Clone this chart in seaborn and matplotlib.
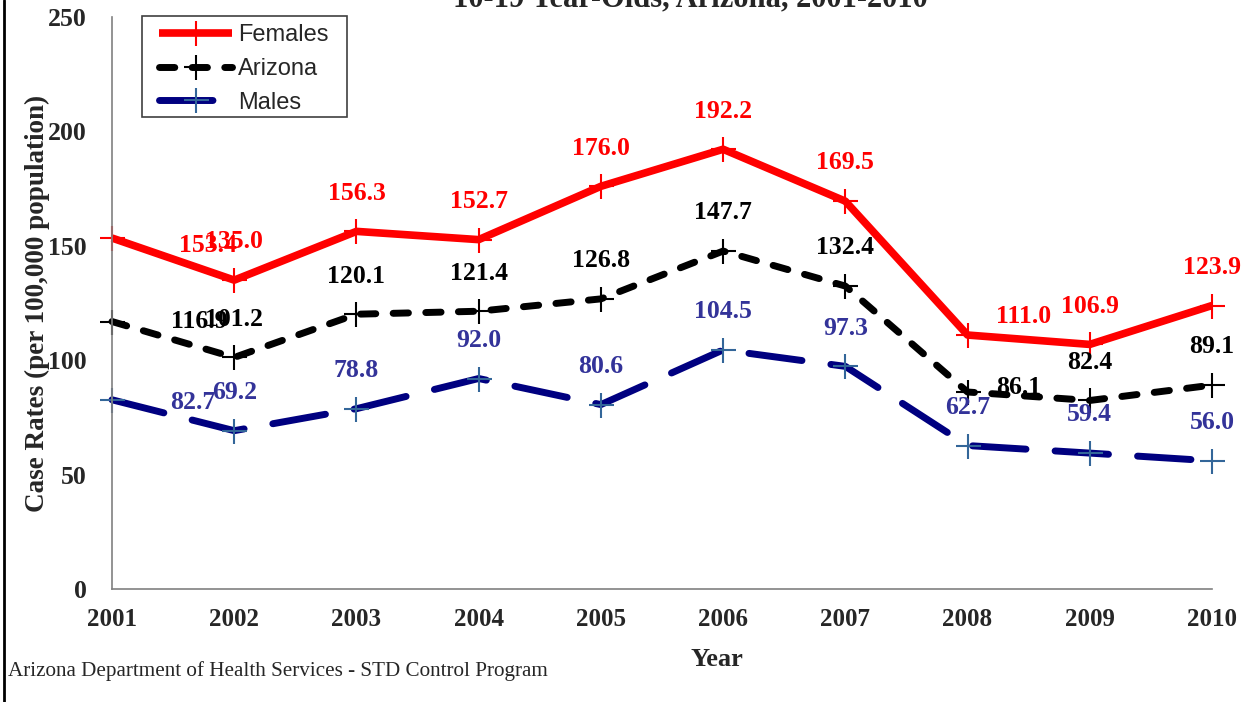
import matplotlib
matplotlib.use("Agg")
import matplotlib.pyplot as plt
import seaborn as sns
import pandas as pd
from matplotlib.lines import Line2D
from matplotlib.patches import Rectangle

# dados do gráfico
anos = [2001, 2002, 2003, 2004, 2005, 2006, 2007, 2008, 2009, 2010]
females = [153.4, 135.0, 156.3, 152.7, 176.0, 192.2, 169.5, 111.0, 106.9, 123.9]
arizona = [116.9, 101.2, 120.1, 121.4, 126.8, 147.7, 132.4, 86.1, 82.4, 89.1]
males = [82.7, 69.2, 78.8, 92.0, 80.6, 104.5, 97.3, 62.7, 59.4, 56.0]

sns.set_style("white")
plt.rcParams['font.family'] = ['Liberation Serif', 'DejaVu Serif']

df = pd.DataFrame({'Ano': anos, 'Females': females, 'Arizona': arizona, 'Males': males})

fig = plt.figure(figsize=(12.51, 7.02), dpi=100)
ax = fig.add_axes([112 / 1251, 1 - 589 / 702, 1100 / 1251, 572 / 702])

# estilo de cada série: cor da linha, cor do marcador, cor do rótulo, tracejado
estilos = {
    'Females': dict(color='#FF0000', mec='#FF0000', txt='#FF0000', ls='-', lw=5.5),
    'Arizona': dict(color='black', mec='black', txt='black', ls=(0, (2.2, 2.5)), lw=5.0),
    'Males': dict(color='#000080', mec='#336699', txt='#333399', ls=(0, (7.7, 4.2)), lw=5.0),
}

for nome, st in estilos.items():
    sns.lineplot(data=df, x='Ano', y=nome, ax=ax, color=st['color'], linewidth=st['lw'],
                 linestyle=st['ls'], dash_capstyle='round', solid_capstyle='butt',
                 marker='+', markersize=18, markeredgewidth=1.5,
                 markeredgecolor=st['mec'], label=nome, clip_on=False)

# deslocamento dos rótulos (pontos): padrão acima, alguns deslocados como no original
desloc_padrao = (0, 27.5)
desloc_extra = {
    ('Females', 2001): (69, -5.5),
    ('Arizona', 2001): (63, 0),
    ('Males', 2001): (58, -2),
    ('Females', 2008): (40, 13),
    ('Arizona', 2008): (37, 3),
}

for nome, st in estilos.items():
    for ano, v in zip(df['Ano'], df[nome]):
        off = desloc_extra.get((nome, ano), desloc_padrao)
        ax.annotate(f"{v:.1f}", (ano, v), xytext=off, textcoords='offset points',
                    ha='center', va='center', fontsize=18.5, fontweight='bold',
                    color=st['txt'], zorder=5)

ax.set_xlim(2001, 2010)
ax.set_ylim(0, 250)
ax.set_xticks(anos)
ax.set_yticks(range(0, 251, 50))
ax.tick_params(axis='x', direction='in', length=6, width=1, color='#808080', pad=14,
               labelsize=18)
ax.tick_params(axis='y', direction='out', length=6, width=1, color='#808080', pad=12,
               labelsize=18.5)
for lab in ax.get_xticklabels() + ax.get_yticklabels():
    lab.set_fontweight('bold')

sns.despine(ax=ax)
for lado in ['left', 'bottom']:
    ax.spines[lado].set_color('#808080')
    ax.spines[lado].set_linewidth(1.2)

ax.set_xlabel('Year', fontsize=19, fontweight='bold')
ax.xaxis.set_label_coords(0.55, -0.124)
ax.xaxis.label.set_va('center')
ax.set_ylabel('Case Rates (per 100,000 population)', fontsize=19.5, fontweight='bold')
ax.yaxis.set_label_coords(-0.068, 0.5)
ax.yaxis.label.set_va('center')

# legenda sem moldura + retângulo desenhado à parte
leg = ax.legend(loc='upper left', bbox_to_anchor=((159 - 112) / 1100, (589 - 24) / 572),
                prop={'family': 'Liberation Sans', 'size': 17}, frameon=False,
                handlelength=3.1, handletextpad=0.25, labelspacing=0.5,
                borderpad=0, borderaxespad=0, numpoints=1)
ax.add_patch(Rectangle(((142 - 112) / 1100, (589 - 117) / 572), 205 / 1100, 101 / 572,
                       transform=ax.transAxes, fill=False, edgecolor='#404040',
                       linewidth=1.2, clip_on=False, zorder=6))

# título (cortado no topo, como na imagem original)
fig.text(690 / 1251, 1 - 6 / 702, '10-19 Year-Olds, Arizona, 2001-2010',
         ha='center', va='baseline', fontsize=22, fontweight='bold')

fig.text(8 / 1251, 1 - 671 / 702,
         'Arizona Department of Health Services - STD Control Program',
         ha='left', va='center', fontsize=15.2)

# borda esquerda do quadro
fig.add_artist(Line2D([4 / 1251, 4 / 1251], [0, 1], color='black', linewidth=2,
                      transform=fig.transFigure))

fig.savefig('out.png', dpi=100)
